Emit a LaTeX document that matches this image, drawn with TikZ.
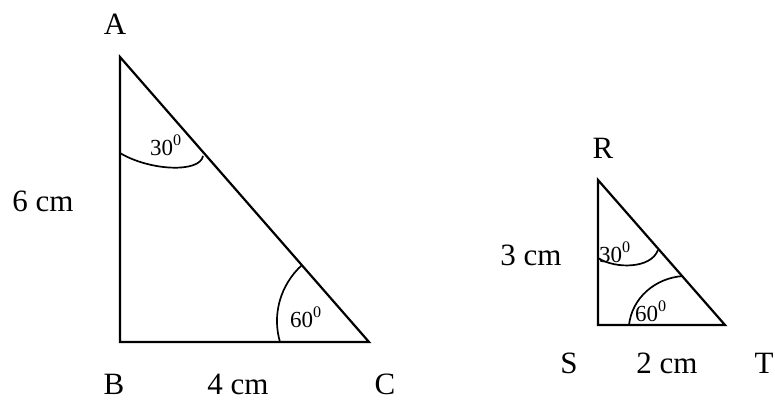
\documentclass[tikz,border=0pt]{standalone}
\usepackage{fontspec}
\setmainfont{Liberation Serif}
\usetikzlibrary{calc}

\tikzset{
    side/.style={line width=2.2pt, line join=miter},
    anglearc/.style={line width=1.7pt},
    vlabel/.style={inner sep=0pt, anchor=base, font=\fontsize{31}{34}\selectfont},
    alabel/.style={inner sep=0pt, anchor=base west, font=\fontsize{23}{25}\selectfont},
}

\begin{document}
\begin{tikzpicture}[x=1pt, y=-1pt]
    \useasboundingbox (0,0) rectangle (775,402);

    % big triangle ABC
    \coordinate (A) at (120,57);
    \coordinate (B) at (120,342);
    \coordinate (C) at (369,342);
    \draw[side] (A) -- (B) -- (C) -- cycle;

    \coordinate (a1) at (120,153);
    \coordinate (a2) at (203,156);
    \draw[anglearc] (a1) .. controls (150,171) and (200,173) .. (a2);
    \coordinate (c1) at (302,265);
    \coordinate (c2) at (280,342);
    \draw[anglearc] (c1) .. controls (280,285) and (272,315) .. (c2);

    \node[vlabel] (lA) at (115,34) {A};
    \node[vlabel] (lB) at (114,394) {B};
    \node[vlabel] (lC) at (385,394) {C};
    \node[vlabel] (lAB) at (43,211) {6 cm};
    \node[vlabel] (lBC) at (238,394) {4 cm};
    \node[alabel] (angA) at (150,155) {30\textsuperscript{0}};
    \node[alabel] (angC) at (290,327) {60\textsuperscript{0}};

    % small triangle RST
    \coordinate (R) at (598,180);
    \coordinate (S) at (598,325);
    \coordinate (T) at (725,325);
    \draw[side] (R) -- (S) -- (T) -- cycle;

    \coordinate (r1) at (598,258);
    \coordinate (r2) at (658,250);
    \draw[anglearc] (r1) .. controls (615,269) and (651,269) .. (r2);
    \coordinate (t1) at (629,325);
    \coordinate (t2) at (683,276);
    \draw[anglearc] (t1) .. controls (632,298) and (655,278) .. (t2);

    \node[vlabel] (lR) at (603,158) {R};
    \node[vlabel] (lS) at (569,373) {S};
    \node[vlabel] (lT) at (764,373) {T};
    \node[vlabel] (lRS) at (531,265) {3 cm};
    \node[vlabel] (lST) at (667,373) {2 cm};
    \node[alabel] (angR) at (599,262) {30\textsuperscript{0}};
    \node[alabel] (angT) at (635,321) {60\textsuperscript{0}};
\end{tikzpicture}
\end{document}
